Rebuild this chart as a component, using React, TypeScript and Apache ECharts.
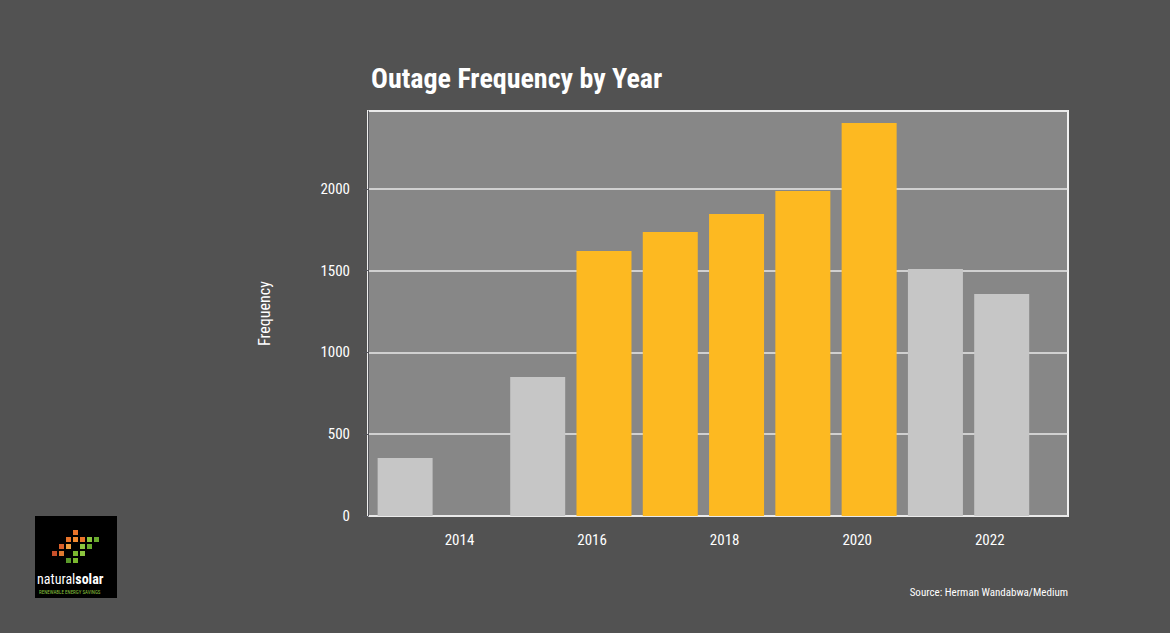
import React, { useEffect, useRef } from 'react';
import * as echarts from 'echarts';

const years = [2013, 2014, 2015, 2016, 2017, 2018, 2019, 2020, 2021, 2022];
const outages = [355, 0, 850, 1621, 1737, 1847, 1988, 2404, 1511, 1358];
const highlighted = [false, false, false, true, true, true, true, true, false, false];
const yearTicks = [2014, 2016, 2018, 2020, 2022];

const FONT = '"Roboto Condensed", "Liberation Sans Narrow", "Roboto", sans-serif';

const App: React.FC = () => {
  const chartRef = useRef<HTMLDivElement>(null);

  useEffect(() => {
    if (!chartRef.current) return;
    const chart = echarts.init(chartRef.current, undefined, { renderer: 'svg' });

    // small logo squares
    const logoSquares: any[] = [];
    const cells = [
      [3, 0, '#e8742a'], [2, 1, '#e8742a'], [3, 1, '#f08a30'], [4, 1, '#e8742a'],
      [1, 2, '#d9602a'], [2, 2, '#f0a040'], [4, 2, '#8cc63f'], [5, 2, '#6aab2e'],
      [0, 3, '#c8502a'], [3, 3, '#7ab82f'], [4, 3, '#8cc63f'], [6, 1, '#6aab2e'],
      [2, 4, '#5a9a2a'], [3, 4, '#7ab82f'], [5, 1, '#8cc63f'], [1, 3, '#e07a30'],
    ];
    cells.forEach(([cx, cy, c]) => {
      logoSquares.push({
        type: 'rect',
        shape: { x: 52 + (cx as number) * 7, y: 530 + (cy as number) * 7, width: 5, height: 5 },
        style: { fill: c as string },
      });
    });

    chart.setOption({
      animation: false,
      backgroundColor: '#525252',
      title: {
        text: 'Outage Frequency by Year',
        left: 366,
        top: 59,
        textStyle: { color: '#ffffff', fontSize: 28, fontWeight: 'bold', fontFamily: FONT },
      },
      grid: { left: 368, right: 102, top: 111, bottom: 117, backgroundColor: '#878787', show: true, borderColor: '#f0f0f0', borderWidth: 2 },
      xAxis: {
        type: 'value',
        min: 2012.44,
        max: 2023,
        axisLine: { show: false },
        axisTick: { show: false },
        splitLine: { show: false },
        axisLabel: {
          // labels sit a little left of the bar centres in the original
          customValues: yearTicks.map((y) => y - 0.18),
          formatter: (v: number) => String(Math.round(v)),
          color: '#ffffff',
          fontSize: 15,
          fontFamily: FONT,
          margin: 16,
        },
      },
      yAxis: {
        type: 'value',
        min: 0,
        max: 2477,
        interval: 500,
        name: 'Frequency',
        nameLocation: 'middle',
        nameGap: 96,
        nameTextStyle: { color: '#ffffff', fontSize: 16, fontFamily: FONT },
        axisLabel: {
          color: '#ffffff',
          fontSize: 15,
          fontFamily: FONT,
          margin: 18,
          showMaxLabel: false,
          formatter: (v: number) => String(v),
        },
        splitLine: { lineStyle: { color: '#e8e8e8', width: 1.5 } },
      },
      series: [
        {
          type: 'bar',
          barWidth: 55,
          data: years.map((y, i) => ({
            value: [y, outages[i]],
            itemStyle: { color: highlighted[i] ? '#fdb921' : '#c6c6c6' },
          })),
        },
      ],
      graphic: [
        {
          type: 'text',
          right: 102,
          top: 587,
          style: { text: 'Source: Herman Wandabwa/Medium', fill: '#ffffff', fontSize: 11, fontFamily: FONT },
        },
        { type: 'rect', shape: { x: 35, y: 516, width: 82, height: 82 }, style: { fill: '#000000' } },
        ...logoSquares,
        {
          type: 'text',
          x: 37,
          y: 572,
          style: {
            text: '{a|natural}{b|solar}',
            rich: {
              a: { fill: '#ffffff', fontSize: 14, fontFamily: FONT },
              b: { fill: '#ffffff', fontSize: 14, fontWeight: 'bold', fontFamily: FONT },
            },
          },
        },
        {
          type: 'text',
          x: 39,
          y: 589,
          style: { text: 'RENEWABLE ENERGY SAVINGS', fill: '#8cc63f', fontSize: 5, fontFamily: FONT },
        },
      ],
    });

    return () => chart.dispose();
  }, []);

  return (
    <div
      ref={chartRef}
      style={{ position: 'absolute', left: 0, top: 0, width: '1170px', height: '633px' }}
    />
  );
};

export default App;
